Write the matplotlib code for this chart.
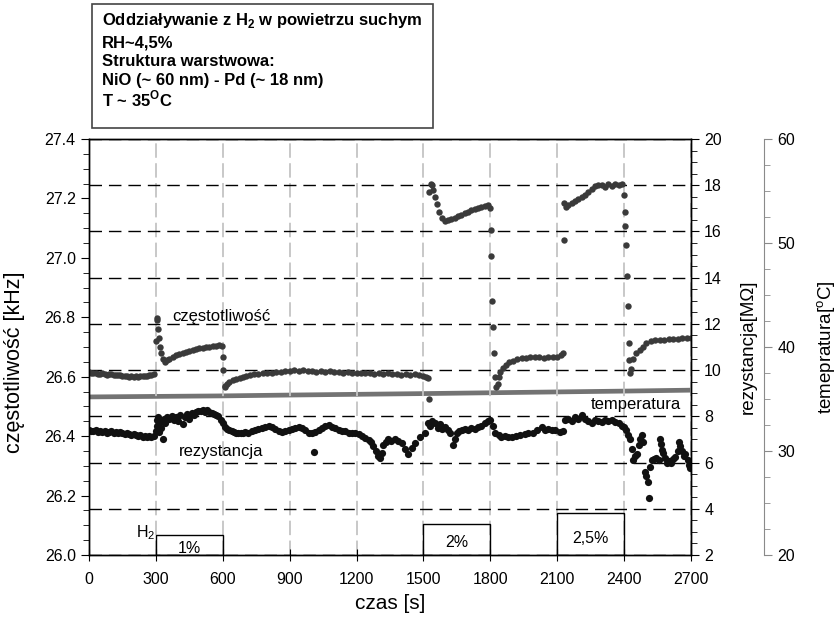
import matplotlib
matplotlib.use("Agg")
import matplotlib.pyplot as plt
from matplotlib.patches import Rectangle
from matplotlib.ticker import MultipleLocator, FormatStrFormatter

plt.rcParams["font.family"] = ["Liberation Sans", "DejaVu Sans"]
plt.rcParams["mathtext.fontset"] = "custom"
plt.rcParams["mathtext.rm"] = "Liberation Sans"
plt.rcParams["mathtext.bf"] = "Liberation Sans:bold"

# częstotliwość [kHz] (left axis)
freq_t = [0, 10, 20, 30, 40, 50, 60, 70, 80, 90, 100, 110, 120, 130, 140, 150, 160, 170, 180, 190,
          200, 210, 220, 230, 240, 250, 260, 270, 280, 290,
          300, 303, 306, 310, 313, 318, 324, 332, 340, 348, 360, 375, 390, 405, 420, 435, 450, 465,
          480, 495, 510, 525, 540, 555, 570, 585, 595,
          600, 603, 608, 612, 620, 630, 645, 660, 675, 690, 705, 720, 740, 760, 780, 800, 820, 840,
          860, 880, 900, 920, 940, 960, 980, 1000, 1020, 1040, 1060, 1080, 1100, 1120, 1140, 1160,
          1180, 1200, 1220, 1240, 1260, 1280, 1300, 1320, 1340, 1360, 1380, 1400, 1420, 1440, 1460,
          1480, 1500, 1510, 1520, 1525,
          1527, 1535, 1540, 1545, 1552, 1560, 1570, 1582, 1597, 1610, 1625, 1640, 1655, 1670, 1685,
          1700, 1715, 1730, 1745, 1760, 1775, 1790, 1797,
          1802, 1805, 1808, 1811, 1815, 1820, 1827, 1833, 1838, 1845, 1855, 1870, 1885, 1900, 1920,
          1940, 1960, 1980, 2000, 2020, 2040, 2060, 2080, 2100, 2115, 2125, 2130,
          2132, 2140, 2150, 2165, 2180, 2195, 2210, 2225, 2240, 2255, 2270, 2285, 2300, 2315, 2330,
          2345, 2360, 2375, 2390,
          2398, 2402, 2405, 2408, 2412, 2416, 2420, 2424, 2428, 2432, 2440, 2455, 2470, 2485, 2500,
          2520, 2540, 2560, 2580, 2600, 2620, 2640, 2660, 2680, 2700]
freq = [26.615, 26.613, 26.611, 26.612, 26.610, 26.608, 26.611, 26.609, 26.607, 26.608, 26.610,
        26.606, 26.607, 26.605, 26.606, 26.604, 26.602, 26.603, 26.600, 26.602, 26.600, 26.603,
        26.600, 26.602, 26.601, 26.603, 26.604, 26.606, 26.607, 26.610,
        26.720, 26.797, 26.790, 26.760, 26.730, 26.700, 26.680, 26.660, 26.650, 26.655, 26.660,
        26.665, 26.672, 26.676, 26.680, 26.684, 26.687, 26.690, 26.692, 26.695, 26.697, 26.699,
        26.701, 26.703, 26.704, 26.706, 26.703,
        26.667, 26.623, 26.570, 26.566, 26.575, 26.582, 26.588, 26.593, 26.597, 26.600, 26.603,
        26.606, 26.608, 26.610, 26.612, 26.613, 26.614, 26.615, 26.616, 26.618, 26.620, 26.622,
        26.619, 26.621, 26.618, 26.620, 26.617, 26.619, 26.616, 26.618, 26.615, 26.617, 26.614,
        26.616, 26.613, 26.612, 26.614, 26.611, 26.613, 26.610, 26.612, 26.609, 26.611, 26.608,
        26.610, 26.607, 26.609, 26.606, 26.608, 26.605, 26.604, 26.600, 26.597, 26.524,
        27.223, 27.249, 27.245, 27.230, 27.206, 27.180, 27.155, 27.135, 27.124, 27.126, 27.130,
        27.135, 27.140, 27.145, 27.150, 27.155, 27.160, 27.165, 27.168, 27.172, 27.175, 27.178,
        27.168,
        27.094, 27.006, 26.856, 26.766, 26.681, 26.600, 26.566, 26.575, 26.600, 26.615, 26.628,
        26.638, 26.648, 26.653, 26.658, 26.662, 26.664, 26.665, 26.666, 26.665, 26.664, 26.666,
        26.665, 26.668, 26.672, 26.679, 27.060,
        27.184, 27.172, 27.178, 27.185, 27.190, 27.198, 27.205, 27.213, 27.222, 27.232, 27.243,
        27.246, 27.245, 27.240, 27.249, 27.243, 27.250, 27.246, 27.250,
        27.212, 27.154, 27.108, 27.044, 26.940, 26.838, 26.715, 26.656, 26.612, 26.625, 26.660,
        26.679, 26.690, 26.700, 26.712, 26.720, 26.724, 26.722, 26.725, 26.726, 26.727, 26.728,
        26.729, 26.730, 26.729]

# rezystancja [MOhm] (right axis)
res_t = [0, 10, 20, 30, 40, 50, 60, 70, 80, 90, 100, 110, 120, 130, 140, 150, 160, 170, 180, 190,
         200, 210, 220, 230, 240, 250, 260, 270, 280, 290,
         300, 303, 306, 310, 315, 320, 325, 330, 335, 340, 350, 360, 370, 380, 390, 400, 410, 420,
         430, 440, 450, 460, 470, 480, 490, 500, 510, 520, 530, 540, 550, 560, 570, 580, 590, 600,
         610, 620, 630, 640, 650, 660, 670, 680, 690, 700, 715, 730, 745, 760, 775, 790, 805, 820,
         835, 850, 865, 880, 895, 910, 925, 940, 955, 970, 985, 1000, 1009, 1015, 1030, 1045, 1060,
         1075, 1090, 1105, 1120, 1135, 1150, 1165, 1180, 1195, 1210, 1225, 1240, 1255, 1265, 1275,
         1285, 1295, 1305, 1312, 1320, 1330, 1340, 1355, 1372, 1387, 1402, 1417, 1432, 1447, 1462,
         1484, 1507, 1522, 1530, 1540, 1552, 1565, 1575, 1585, 1597, 1610, 1620, 1634, 1640, 1650,
         1660, 1672, 1685, 1700, 1715, 1732, 1745, 1760, 1777, 1790, 1800, 1810, 1820, 1837, 1850,
         1865, 1880, 1897, 1915, 1935, 1955, 1971, 1990, 2010, 2031, 2045, 2060, 2075, 2091, 2112,
         2125, 2135, 2150, 2165, 2180, 2195, 2210, 2225, 2240, 2255, 2270, 2285, 2300, 2315, 2330,
         2345, 2360, 2375, 2390, 2400, 2410, 2418, 2427, 2435, 2442, 2450, 2457, 2465, 2472, 2480,
         2487, 2495, 2500, 2505, 2510, 2515, 2525, 2535, 2545, 2555, 2562, 2566, 2570, 2575, 2582,
         2592, 2600, 2610, 2620, 2630, 2640, 2645, 2652, 2660, 2668, 2675, 2685, 2692, 2697, 2700]
res = [7.40, 7.38, 7.35, 7.39, 7.33, 7.36, 7.34, 7.38, 7.30, 7.33, 7.35, 7.28, 7.31, 7.26, 7.32,
       7.30, 7.22, 7.27, 7.24, 7.20, 7.25, 7.18, 7.15, 7.20, 7.12, 7.16, 7.10, 7.14, 7.12, 7.15,
       7.35, 7.83, 7.60, 7.97, 7.33, 7.75, 7.50, 7.04, 7.90, 7.70, 7.97, 7.88, 8.00, 7.85, 7.95,
       7.80, 8.05, 7.65, 7.95, 8.10, 7.90, 8.15, 8.05, 8.20, 8.25, 8.22, 8.28, 8.18, 8.26, 8.20,
       8.15, 8.12, 8.05, 8.00, 7.85, 7.70,
       7.55, 7.45, 7.40, 7.35, 7.33, 7.28, 7.30, 7.26, 7.28, 7.32, 7.30, 7.36, 7.40, 7.46, 7.50,
       7.55, 7.60, 7.55, 7.45, 7.38, 7.33, 7.35, 7.40, 7.45, 7.50, 7.54, 7.48, 7.40, 7.30, 7.28,
       6.46, 7.32, 7.40, 7.50, 7.60, 7.62, 7.55, 7.48, 7.42, 7.38, 7.35, 7.30, 7.28, 7.26, 7.22,
       7.15, 7.08, 6.98, 6.90, 6.70, 6.50, 6.30, 6.18, 6.40, 6.75, 6.90, 7.00, 6.95, 7.04, 6.95,
       6.83, 6.60, 6.39, 6.65, 6.83, 7.11, 7.26, 7.69, 7.60, 7.80, 7.69, 7.50, 7.65, 7.45, 7.54,
       7.40, 7.30, 6.75, 7.00, 7.30, 7.38, 7.40, 7.45, 7.42, 7.48, 7.47, 7.52, 7.58, 7.69, 7.80,
       7.83, 7.60, 7.30, 7.18, 7.12, 7.15, 7.10, 7.11, 7.16, 7.20, 7.24, 7.26, 7.30, 7.40, 7.54,
       7.42, 7.45, 7.40, 7.40, 7.33, 7.35, 7.83, 7.90, 7.80, 7.95, 7.90, 8.05, 7.90, 7.80, 7.69,
       7.85, 7.80, 7.75, 7.82, 7.78, 7.83, 7.75, 7.70, 7.60, 7.54, 7.40, 7.20, 7.04, 6.60, 6.10,
       6.30, 6.39, 6.75, 7.00, 7.18, 6.90, 5.60, 5.40, 5.17, 4.45, 5.80, 6.10, 6.15, 6.20, 6.10,
       7.04, 6.80, 6.54, 6.40, 6.20, 5.96, 6.05, 6.00, 6.15, 6.25, 6.50, 6.90, 6.70, 6.50, 6.30,
       6.39, 6.10, 5.90, 5.75, 6.05]

# temperatura [C] (third axis)
temp_t = [0, 300, 600, 900, 1200, 1500, 1800, 2100, 2400, 2700]
temp = [35.2, 35.25, 35.3, 35.38, 35.45, 35.52, 35.6, 35.68, 35.76, 35.85]

# H2 pulses
h2_start = [300, 1500, 2100]
h2_height = [0.86, 1.34, 1.8]
h2_labels = ["1%", "2%", "2,5%"]
h2_text_y = [2.30, 2.52, 2.73]

box_lines = [r"Oddziaływanie z H$_{\mathbf{2}}$ w powietrzu suchym",
             "RH~4,5%",
             "Struktura warstwowa:",
             "NiO (~ 60 nm) - Pd (~ 18 nm)",
             r"T ~ 35$^{\mathbf{O}}$C"]
box_y = [0.968, 0.9312, 0.9008, 0.8704, 0.8416]

fig = plt.figure(figsize=(8.4, 6.25), dpi=100)
ax1 = fig.add_axes([0.106, 0.112, 0.7166, 0.6656])
ax2 = ax1.twinx()
ax3 = ax1.twinx()

ax3.set_zorder(0)
ax2.set_zorder(1)
ax1.set_zorder(2)
ax3.patch.set_visible(True)
ax3.patch.set_facecolor("white")
ax2.patch.set_visible(False)
ax1.patch.set_visible(False)

# temperature axis (offset right spine)
ax3.spines["right"].set_position(("axes", 1.1213))
for s in ["left", "top", "bottom"]:
    ax3.spines[s].set_visible(False)
ax3.spines["right"].set_color("#8a8a8a")
ax3.plot(temp_t, temp, color="#737373", lw=3.4, solid_capstyle="butt")
ax3.set_ylim(20, 60)
ax3.yaxis.set_major_locator(MultipleLocator(10))
ax3.yaxis.set_minor_locator(MultipleLocator(2.5))
ax3.tick_params(axis="y", which="both", colors="#8a8a8a", labelcolor="black", labelsize=11.5)
ax3.tick_params(axis="y", which="major", length=6)
ax3.tick_params(axis="y", which="minor", length=4)
ax3.set_ylabel(r"temepratura[$^{\rm o}$C]", fontsize=13.5)
ax3.yaxis.set_label_coords(1.207, 0.5)

# resistance axis
ax2.plot(res_t, res, "o", color="#111111", ms=5.2, mec="none")
ax2.set_ylim(2, 20)
ax2.yaxis.set_major_locator(MultipleLocator(2))
ax2.yaxis.set_minor_locator(MultipleLocator(0.5))
ax2.tick_params(axis="y", which="major", length=6, labelsize=11.5)
ax2.tick_params(axis="y", which="minor", length=4)
ax2.xaxis.set_visible(True)
ax2.tick_params(axis="x", which="both", bottom=False, top=False,
                labelbottom=False, labeltop=False)
ax2.grid(True, axis="y", color="black", lw=1.0, ls=(0, (9, 5)))
ax2.grid(True, axis="x", color="#c4c4c4", lw=1.3, ls=(0, (8, 3)))
ax2.set_axisbelow(True)
ax2.set_ylabel("rezystancja[MΩ]", fontsize=13.5)
ax2.yaxis.set_label_coords(1.081, 0.5)
for x0, h, lab, ty in zip(h2_start, h2_height, h2_labels, h2_text_y):
    ax2.add_patch(Rectangle((x0, 2), 300, h, fill=False, ec="black", lw=1.0, zorder=4))
    ax2.text(x0 + 150, ty, lab, ha="center", va="center", fontsize=11.5, zorder=5)
ax2.text(296, 2.95, r"H$_2$", ha="right", va="center", fontsize=11.5)
ax2.text(404, 6.46, "rezystancja", ha="left", va="center", fontsize=12)
ax2.text(2251, 8.52, "temperatura", ha="left", va="center", fontsize=12)

# frequency axis
ax1.plot(freq_t, freq, "o", color="#3a3a3a", ms=4.6, mec="none")
ax1.set_ylim(26.0, 27.4)
ax1.set_xlim(0, 2700)
ax1.set_xticks(range(0, 2701, 300))
ax1.yaxis.set_major_locator(MultipleLocator(0.2))
ax1.yaxis.set_minor_locator(MultipleLocator(0.05))
ax1.yaxis.set_major_formatter(FormatStrFormatter("%.1f"))
ax1.tick_params(axis="y", which="major", length=6, labelsize=11.5)
ax1.tick_params(axis="y", which="minor", length=4)
ax1.tick_params(axis="x", direction="inout", length=8, labelsize=11.5, pad=8)
ax1.set_ylabel("częstotliwość [kHz]", fontsize=15.5)
ax1.yaxis.set_label_coords(-0.106, 0.464)
ax1.set_xlabel("czas [s]", fontsize=15)
ax1.xaxis.set_label_coords(0.5, -0.094)
ax1.text(372, 26.804, "częstotliwość", ha="left", va="center", fontsize=12)

for a in (ax1, ax2):
    for s in a.spines.values():
        s.set_linewidth(1.0)

# description box
fig.patches.append(Rectangle((0.1095, 0.7952), 0.406, 0.1984, transform=fig.transFigure,
                             fill=False, ec="#444444", lw=1.2))
for line, yy in zip(box_lines, box_y):
    fig.text(0.1214, yy, line, ha="left", va="center", fontsize=12, fontweight="bold")

fig.savefig("out.png", dpi=100)
